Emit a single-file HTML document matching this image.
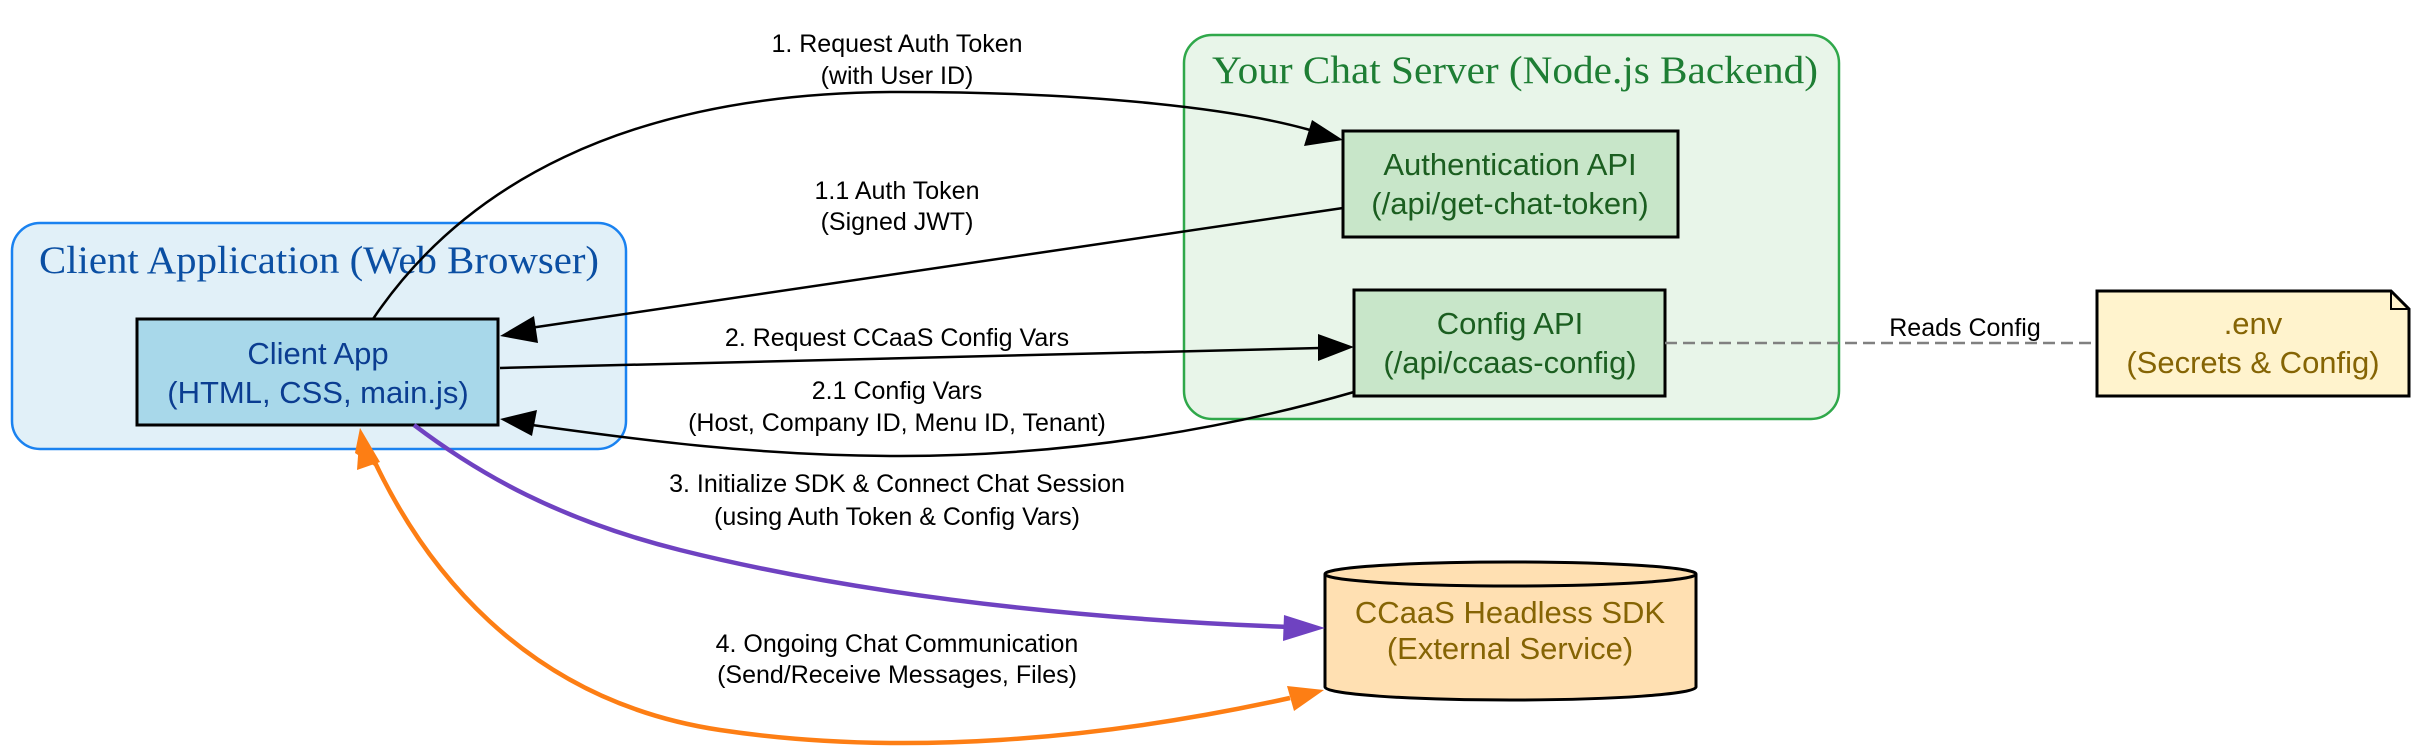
<!DOCTYPE html>
<html><head><meta charset="utf-8"><style>html,body{margin:0;padding:0;background:#fff}svg{display:block}</style></head>
<body>
<svg width="2420" height="754" viewBox="0 0 2420 754" xmlns="http://www.w3.org/2000/svg" font-family="'Liberation Sans',sans-serif">
<!-- clusters -->
<rect x="12" y="223" width="614" height="226" rx="28" fill="#e1f0f8" stroke="#1a82f0" stroke-width="2.5"/>
<text x="319" y="273" text-anchor="middle" font-family="'Liberation Serif',serif" font-size="39" fill="#0b4fa3" textLength="560" lengthAdjust="spacingAndGlyphs">Client Application (Web Browser)</text>
<rect x="1184" y="35" width="655" height="384" rx="28" fill="#e8f5e9" stroke="#2fa84a" stroke-width="2.5"/>
<text x="1515" y="83" text-anchor="middle" font-family="'Liberation Serif',serif" font-size="39" fill="#1e7e34" textLength="606" lengthAdjust="spacingAndGlyphs">Your Chat Server (Node.js Backend)</text>
<!-- nodes -->
<rect x="137" y="319" width="361" height="106" fill="#a8d8ea" stroke="#000" stroke-width="3"/>
<text text-anchor="middle" font-size="31" fill="#0b3d91"><tspan x="318" y="364">Client App</tspan><tspan x="318" y="403">(HTML, CSS, main.js)</tspan></text>
<rect x="1343" y="131" width="335" height="106" fill="#c8e6c9" stroke="#000" stroke-width="3"/>
<text text-anchor="middle" font-size="31" fill="#1b5e20"><tspan x="1510" y="175">Authentication API</tspan><tspan x="1510" y="214">(/api/get-chat-token)</tspan></text>
<rect x="1354" y="290" width="311" height="106" fill="#c8e6c9" stroke="#000" stroke-width="3"/>
<text text-anchor="middle" font-size="31" fill="#1b5e20"><tspan x="1510" y="334">Config API</tspan><tspan x="1510" y="373">(/api/ccaas-config)</tspan></text>
<path d="M2097,291 L2391,291 L2409,309 L2409,396 L2097,396 Z" fill="#fff3cd" stroke="#000" stroke-width="3"/>
<path d="M2391,291 L2391,309 L2409,309" fill="none" stroke="#000" stroke-width="2"/>
<text text-anchor="middle" font-size="31" fill="#856404"><tspan x="2253" y="334">.env</tspan><tspan x="2253" y="373">(Secrets &amp; Config)</tspan></text>
<path d="M1325,574 L1325,687 A185.5,13 0 0 0 1696,687 L1696,574" fill="#ffe0b2" stroke="#000" stroke-width="3"/>
<ellipse cx="1510.5" cy="574" rx="185.5" ry="12" fill="#ffe0b2" stroke="#000" stroke-width="3"/>
<text text-anchor="middle" font-size="31" fill="#856404"><tspan x="1510" y="623">CCaaS Headless SDK</tspan><tspan x="1510" y="659">(External Service)</tspan></text>
<!-- edges -->
<path d="M373,319 C460,190 620,92 900,92 C1100,92 1240,110 1310,130" fill="none" stroke="#000" stroke-width="2.5"/>
<path d="M1343,208 L530,328" fill="none" stroke="#000" stroke-width="2.5"/>
<path d="M500,368 L1320,348" fill="none" stroke="#000" stroke-width="2.5"/>
<path d="M1354,392 C1240,425 1080,456 900,456 C760,456 640,440 532,425" fill="none" stroke="#000" stroke-width="2.5"/>
<polygon points="1343,140 1304,146 1312,120" fill="#000"/>
<polygon points="500,336 534,316 538,343" fill="#000"/>
<polygon points="1354,347 1318,334 1318,361" fill="#000"/>
<polygon points="500,419 537,410 532,436" fill="#000"/>
<path d="M414,425 C480,475 560,520 680,550 C900,605 1150,622 1290,627" fill="none" stroke="#6f42c1" stroke-width="4.5"/>
<polygon points="1325,628 1284,615 1283,641" fill="#6f42c1"/>
<path d="M372,456 C420,560 520,700 720,730 C900,757 1100,740 1290,698" fill="none" stroke="#fd7e14" stroke-width="4.5"/>
<polygon points="360,428 376,467 355,453" fill="#fd7e14"/>
<polygon points="360,428 380,462 357,470" fill="#fd7e14"/>
<polygon points="1324,690 1287,686 1294,711" fill="#fd7e14"/>
<path d="M1665,343 L2097,343" fill="none" stroke="#808080" stroke-width="2.5" stroke-dasharray="12,6"/>
<!-- edge labels -->
<g font-size="25" fill="#000" text-anchor="middle">
<text x="897" y="52">1. Request Auth Token</text><text x="897" y="84">(with User ID)</text>
<text x="897" y="199">1.1 Auth Token</text><text x="897" y="230">(Signed JWT)</text>
<text x="897" y="346">2. Request CCaaS Config Vars</text>
<text x="897" y="399">2.1 Config Vars</text><text x="897" y="431">(Host, Company ID, Menu ID, Tenant)</text>
<text x="897" y="492">3. Initialize SDK &amp; Connect Chat Session</text><text x="897" y="525">(using Auth Token &amp; Config Vars)</text>
<text x="897" y="652">4. Ongoing Chat Communication</text><text x="897" y="683">(Send/Receive Messages, Files)</text>
<text x="1965" y="336">Reads Config</text>
</g>
</svg>
</body></html>
